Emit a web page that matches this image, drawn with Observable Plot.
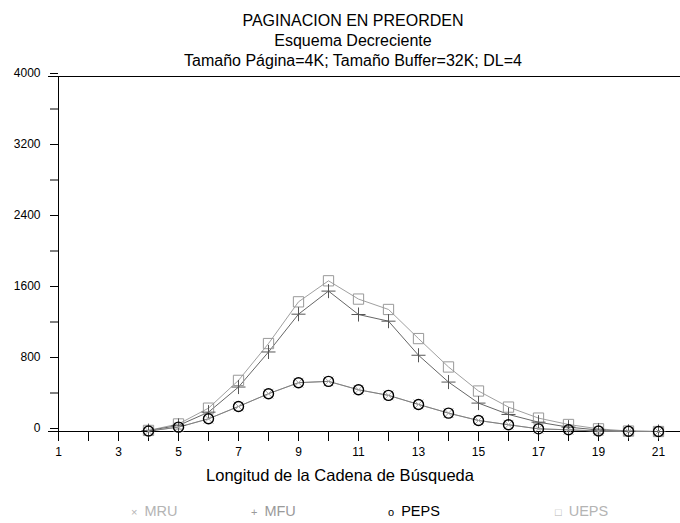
<!DOCTYPE html>
<html><head><meta charset="utf-8">
<script src="https://cdn.jsdelivr.net/npm/d3@7"></script>
<script src="https://cdn.jsdelivr.net/npm/@observablehq/plot@0.6"></script>
<style>
body{margin:0;background:#fff;font-family:"Liberation Sans",Arial,sans-serif;color:#000;}
#title{width:680px;height:62px;box-sizing:border-box;padding-left:26px;padding-top:11px;text-align:center;font-size:16px;}
#title div{line-height:20px;}
#xlabel{width:680px;height:29px;text-align:center;font-size:16.5px;line-height:29px;}
#legend{position:relative;width:680px;height:33px;font-size:14.5px;}
#legend span.item{position:absolute;top:11px;line-height:20px;white-space:nowrap;}
#legend span.sym{font-size:11px;margin-right:7px;}
</style></head><body>
<div id="title"><div>PAGINACION EN PREORDEN</div><div>Esquema Decreciente</div><div>Tamaño Página=4K; Tamaño Buffer=32K; DL=4</div></div>
<div id="chart"></div>
<div id="xlabel">Longitud de la Cadena de Búsqueda</div>
<div id="legend"></div>
<script>
const lengths = [4,5,6,7,8,9,10,11,12,13,14,15,16,17,18,19,20,21];
const mru  = [5,49,143,282,426,550,565,470,407,305,207,124,76,30,19,5,2,0];
const mfu  = [10,68,218,501,896,1322,1582,1318,1243,859,557,320,192,105,49,17,2,0];
const peps = [5,49,143,282,426,550,565,470,407,305,207,124,76,30,19,5,2,0];
const ueps = [12,85,263,576,991,1461,1698,1492,1375,1047,727,456,275,151,79,30,5,0];
const seriesNames = ["MRU","MFU","PEPS","UEPS"];
const xTicks = d3.range(1,22);
const yTicks = d3.range(0,4001,400);

const styles = {
  MRU:  {line:"#aaaaaa", mark:"#aaaaaa", symbol:"times",  r:4.5, legend:"#b4b4b4", glyph:"×"},
  MFU:  {line:"#666666", mark:"#555555", symbol:"plus",   r:4.6, legend:"#9a9a9a", glyph:"+"},
  PEPS: {line:"#808080", mark:"#000000", symbol:"circle", r:5,   legend:"#000000", glyph:"o"},
  UEPS: {line:"#a0a0a0", mark:"#999999", symbol:"square", r:5.8, legend:"#b4b4b4", glyph:"□"}
};
const values = {MRU:mru, MFU:mfu, PEPS:peps, UEPS:ueps};
const table = name => lengths.map((x,i)=>({x, y: values[name][i]}));

const marks = [
  Plot.ruleY([0,4000], {stroke:"#000", strokeWidth:1.2, insetLeft:-10}),
  Plot.ruleX([1], {stroke:"#000", strokeWidth:1, insetBottom:-10}),
  Plot.axisY({ticks:yTicks, tickSize:8, tickPadding:10, dy:-3, fontSize:12,
    tickFormat: d => d % 800 === 0 ? String(d) : "", label:null}),
  Plot.axisX({ticks:xTicks, tickSize:10, tickPadding:6, fontSize:12,
    tickFormat: d => d % 2 === 1 ? String(d) : "", label:null})
];
for (const name of ["UEPS","MFU","MRU","PEPS"]) {
  marks.push(Plot.line(table(name), {x:"x", y:"y", stroke:styles[name].line, strokeWidth:1}));
}
for (const name of ["UEPS","MFU","MRU","PEPS"]) {
  const s = styles[name];
  marks.push(Plot.dot(table(name), {x:"x", y:"y", symbol:s.symbol, r:s.r, fill:"none", stroke:s.mark, strokeWidth: name==="PEPS"?1.4:1}));
}

const chart = Plot.plot({
  width:680, height:399,
  marginTop:14, marginLeft:58, marginRight:0, marginBottom:30,
  x:{domain:[1, 1 + 622/30]},
  y:{domain:[0,4000]},
  style:{fontFamily:'"Liberation Sans",Arial,sans-serif', color:"#000", background:"transparent"},
  marks
});
document.getElementById("chart").append(chart);

const legendX = {MRU:131, MFU:251, PEPS:388, UEPS:555};
const leg = document.getElementById("legend");
for (const name of seriesNames) {
  const s = styles[name];
  const it = document.createElement("span");
  it.className = "item";
  it.style.left = legendX[name] + "px";
  it.style.color = s.legend;
  const sym = document.createElement("span");
  sym.className = "sym";
  sym.textContent = s.glyph;
  it.append(sym, document.createTextNode(name));
  leg.append(it);
}
</script>
</body></html>
